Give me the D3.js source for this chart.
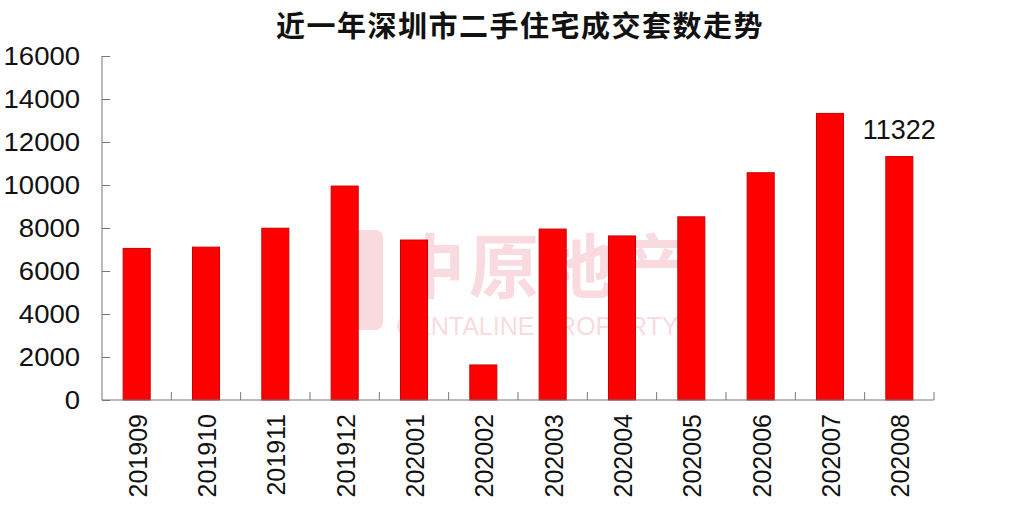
<!DOCTYPE html>
<html><head><meta charset="utf-8">
<script src="https://cdn.jsdelivr.net/npm/d3@7"></script>
<style>body{margin:0;background:#fff}svg{display:block}</style>
</head><body>
<svg id="c" width="1032" height="516"></svg>
<script>
const title = "近一年深圳市二手住宅成交套数走势";
const categories = ["201909","201910","201911","201912","202001","202002","202003","202004","202005","202006","202007","202008"];
const values = [7050, 7110, 7990, 9950, 7440, 1630, 7950, 7630, 8520, 10570, 13330, 11322];
const yTicks = [0,2000,4000,6000,8000,10000,12000,14000,16000];
const labelled = ["202008"];

const svg = d3.select("#c");
const font = "'Liberation Sans', Arial, sans-serif";
const x = d3.scaleBand().domain(categories).range([102, 934]).paddingInner(0.61).paddingOuter(0.305);
const y = d3.scaleLinear().domain([0, 16000]).range([400, 56]);

// watermark
const wm = svg.append("g").attr("opacity", 0.14).attr("fill", "#d9001b");
wm.append("text").attr("x", 395).attr("y", 293).attr("font-family","'Noto Sans CJK SC', sans-serif")
  .attr("font-weight", "bold").attr("font-size", 70).attr("letter-spacing", 4).text("中原地产");
wm.append("text").attr("x", 396).attr("y", 335).attr("font-family", font)
  .attr("font-size", 25).text("CENTALINE PROPERTY");
wm.append("rect").attr("x", 343).attr("y", 230).attr("width", 40).attr("height", 100).attr("rx", 8);

// title
svg.append("text").attr("x", 520).attr("y", 37).attr("text-anchor", "middle")
  .attr("font-family", "'Noto Sans CJK SC', sans-serif").attr("font-weight", "bold")
  .attr("font-size", 29).attr("letter-spacing", 1.5).attr("fill", "#111").text(title);

// bars
svg.append("g").selectAll("rect").data(categories).join("rect")
  .attr("x", d => x(d)).attr("width", x.bandwidth())
  .attr("y", (d, i) => y(values[i])).attr("height", (d, i) => y(0) - y(values[i]))
  .attr("fill", "#ff0000").attr("stroke", "#c80000").attr("stroke-width", 1);

// y axis
const ya = svg.append("g").attr("transform", "translate(102,0)")
  .call(d3.axisRight(y).tickValues(yTicks).tickSize(8).tickFormat(""));
ya.select(".domain").attr("stroke", "#777").attr("d", "M0,56V400");
ya.selectAll(".tick line").attr("stroke", "#777");
svg.append("g").selectAll("text").data(yTicks).join("text")
  .attr("x", 80).attr("y", d => y(d)).attr("dy", "0.36em").attr("text-anchor", "end")
  .attr("font-family", font).attr("font-size", 25).attr("fill", "#111")
  .attr("transform", d => `translate(80,${y(d)}) scale(1.1,1) translate(-80,${-y(d)})`)
  .text(d => d);

// x axis
const xa = svg.append("g").attr("transform", "translate(0,400)");
xa.append("line").attr("x1", 102).attr("x2", 934).attr("stroke", "#777");
const bounds = d3.range(categories.length + 1).map(i => 102 + i * x.step());
xa.selectAll(".tk").data(bounds.slice(1)).join("line").attr("class","tk")
  .attr("x1", d => d).attr("x2", d => d).attr("y1", 0).attr("y2", -8).attr("stroke", "#777");
svg.append("g").selectAll("text").data(categories).join("text")
  .attr("transform", d => `translate(${x(d) + x.bandwidth()/2 + 1},414) rotate(-90)`)
  .attr("text-anchor", "end").attr("dominant-baseline", "central")
  .attr("font-family", font).attr("font-size", 25).attr("fill", "#111").text(d => d);

// value label
svg.append("g").selectAll("text").data(labelled).join("text")
  .attr("x", d => x(d) + x.bandwidth()/2).attr("y", 139).attr("text-anchor", "middle")
  .attr("font-family", font).attr("font-size", 27).attr("fill", "#111")
  .text(d => values[categories.indexOf(d)]);
</script>
</body></html>
